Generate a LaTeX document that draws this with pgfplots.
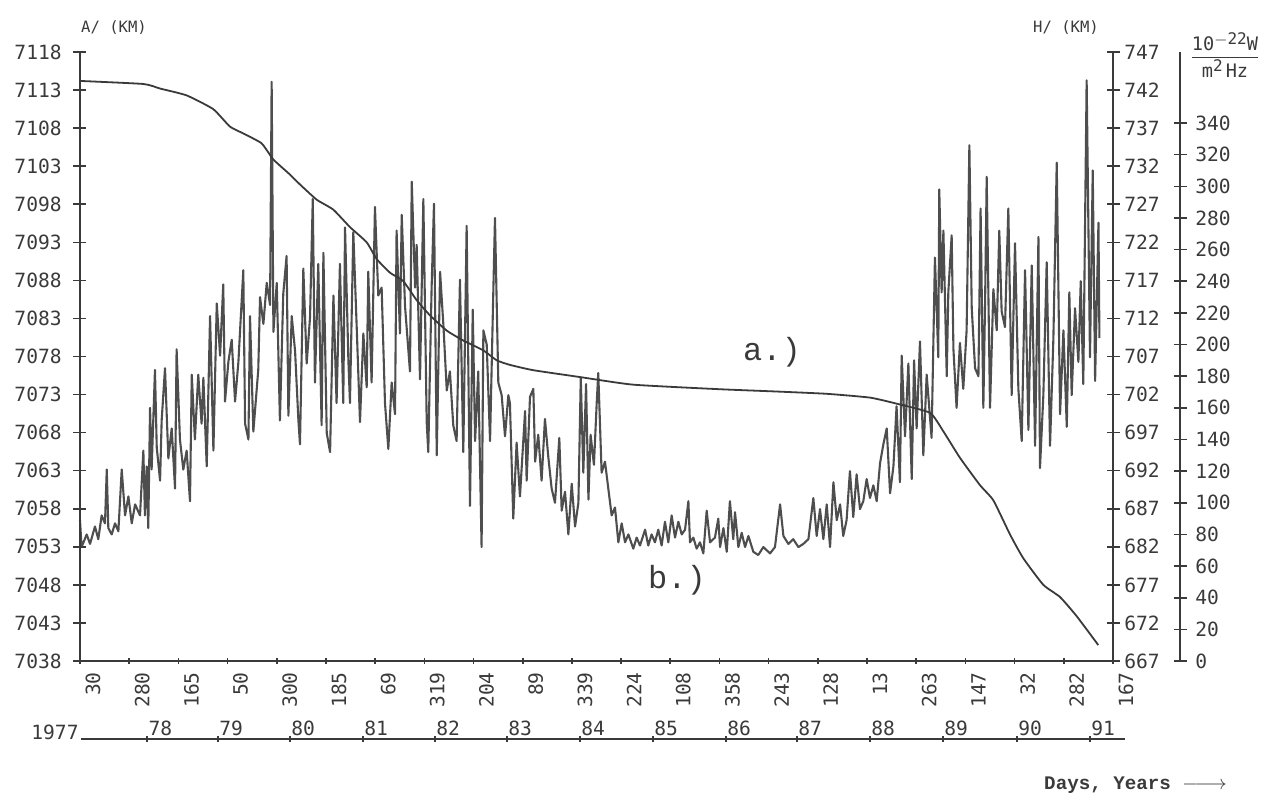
\documentclass[border=0pt]{standalone}
\usepackage{fontspec}
\usepackage{pgfplots}
\pgfplotsset{compat=1.18}
\usepackage{pgfplotstable}
\newfontfamily\plotfont{DejaVu Sans Mono}
\newfontfamily\courfont{Liberation Mono}
\definecolor{ink}{HTML}{3A3A3A}

\pgfplotstableread{
day A
0 7114.2
322 7113.8
407 7113.2
542 7112.3
677 7110.5
762 7108.2
830 7107.3
923 7106.0
982 7103.9
1067 7101.9
1118 7100.6
1203 7098.6
1287 7097.3
1372 7095.0
1457 7093.0
1508 7090.8
1576 7089.0
1643 7087.9
1711 7085.4
1779 7083.4
1864 7081.4
1948 7080.1
2050 7078.8
2118 7077.5
2185 7076.9
2304 7076.2
2541 7075.3
2812 7074.3
3253 7073.7
3541 7073.4
3795 7073.1
4015 7072.6
4151 7071.8
4320 7070.6
4387 7068.2
4472 7064.7
4574 7061.1
4642 7059.1
4727 7054.6
4794 7051.5
4896 7048.0
4981 7046.4
5065 7043.9
5175 7040.1
}\orbit

\pgfplotstableread{
day flux
0 89
8 72
34 80
51 74
76 85
93 77
110 92
127 87
136 121
144 84
161 80
178 87
195 82
212 121
229 92
246 104
263 87
280 99
305 92
322 133
330 92
339 123
347 84
356 160
364 121
381 184
390 135
407 114
415 152
432 185
449 128
466 147
483 109
491 197
508 140
525 121
542 133
559 101
568 181
584 140
601 181
618 150
627 179
644 123
661 218
678 133
695 226
712 193
728 238
737 164
754 189
771 203
788 164
805 189
830 247
839 150
856 140
864 218
881 145
906 184
915 230
932 213
949 239
966 225
974 366
983 208
1000 239
1016 152
1033 232
1050 256
1059 155
1076 218
1093 196
1110 152
1118 137
1135 248
1152 188
1169 217
1183 292
1194 176
1211 251
1228 149
1237 258
1254 144
1271 132
1288 231
1304 163
1321 251
1338 163
1347 274
1364 190
1372 163
1389 271
1406 212
1423 151
1440 207
1457 173
1465 246
1482 176
1499 287
1516 231
1533 236
1550 163
1567 134
1584 176
1601 156
1609 272
1626 207
1635 282
1652 224
1677 183
1686 303
1703 236
1711 263
1728 178
1745 292
1762 151
1770 132
1787 236
1799 289
1813 130
1830 246
1847 212
1864 171
1880 183
1897 149
1914 139
1931 241
1948 132
1965 275
1982 98
1996 222
2008 139
2024 183
2041 72
2050 209
2067 200
2084 139
2101 236
2109 280
2126 176
2143 168
2160 142
2177 168
2185 163
2202 90
2219 138
2236 104
2262 158
2270 114
2287 167
2304 172
2313 126
2329 143
2346 114
2363 153
2380 129
2397 109
2414 100
2436 141
2448 95
2465 107
2482 80
2499 112
2516 85
2533 100
2545 179
2558 119
2572 175
2584 102
2595 143
2612 124
2626 163
2634 182
2651 119
2668 126
2685 109
2702 92
2719 97
2736 75
2753 87
2770 75
2787 80
2812 71
2829 78
2846 73
2872 83
2888 73
2905 80
2922 75
2939 83
2956 73
2973 88
2990 75
3007 92
3024 78
3041 88
3058 80
3075 83
3092 101
3100 75
3117 78
3134 71
3151 75
3168 68
3185 95
3202 75
3227 78
3244 90
3253 72
3270 84
3287 69
3303 101
3320 77
3329 94
3346 72
3363 81
3380 72
3397 79
3422 69
3447 67
3473 72
3507 68
3532 72
3558 99
3575 79
3600 74
3625 77
3651 72
3676 74
3702 77
3727 103
3744 79
3761 96
3778 77
3795 99
3812 72
3829 113
3846 89
3863 99
3879 79
3896 89
3913 120
3930 91
3947 118
3964 96
3981 101
3998 115
4015 103
4032 111
4049 101
4066 125
4083 137
4100 147
4117 106
4134 123
4150 161
4167 113
4176 193
4193 142
4210 188
4227 115
4239 190
4252 147
4269 202
4286 130
4303 181
4328 141
4345 255
4362 192
4367 298
4379 233
4388 272
4405 180
4413 233
4430 269
4439 197
4455 160
4472 201
4489 172
4506 209
4520 326
4532 223
4549 185
4566 180
4577 286
4591 160
4600 228
4608 306
4625 160
4642 235
4659 209
4672 272
4684 221
4701 211
4718 286
4735 168
4752 264
4769 172
4786 139
4803 247
4820 146
4837 250
4854 136
4871 268
4879 122
4896 168
4913 252
4930 136
4947 204
4964 315
4981 156
4998 209
5015 148
5028 233
5040 168
5057 223
5074 189
5086 240
5099 175
5116 367
5133 192
5147 310
5159 177
5176 277
5181 204
}\fluxdata

\begin{document}
\begin{tikzpicture}[x=1pt,y=1pt]
\useasboundingbox (-40,-66.5) rectangle (597.5,330.5);
\pgfplotsset{
  base/.style={scale only axis, width=516.5pt, height=304.5pt,
    xmin=0, xmax=5250, clip=false,
    tick style={ink, line width=0.8pt},
    tick align=center,
    /pgf/number format/assume math mode=true,
    /pgf/number format/1000 sep={},
    tick label style={font=\plotfont\fontsize{9.8}{10}\selectfont, text=ink},
  },
  noarrow/.style={axis line style={-, ink, line width=0.8pt},
    every outer x axis line/.append style={-},
    every outer y axis line/.append style={-},
    every inner x axis line/.append style={-},
    every inner y axis line/.append style={-}},
}
% flux data
\begin{axis}[base, at={(0,0)}, anchor=south west, ymin=0, ymax=384.9, hide axis]
\addplot[ink!90, line width=1.05pt, line join=round] table[x=day,y=flux]{\fluxdata};
\end{axis}
% main A axis
\begin{axis}[base, at={(0,0)}, anchor=south west, ymin=7038, ymax=7118,
  axis x line=bottom, axis y line=left, noarrow,
  xtick={0,250,...,5250},
  xticklabels={30,280,165,50,300,185,69,319,204,89,339,224,108,358,243,128,13,263,147,32,282,167},
  xticklabel style={rotate=90, anchor=east, yshift=-6.5pt},
  xtick style={/pgfplots/major tick length=3pt},
  ytick={7038,7043,...,7118},
  ytick style={/pgfplots/major tick length=6.5pt},
  yticklabel style={anchor=east, xshift=-3.5pt}]
\addplot[ink, line width=0.9pt, line join=round, smooth, tension=0.3] table[x=day,y=A]{\orbit};
\end{axis}
% H axis
\begin{axis}[base, at={(0,0)}, anchor=south west, ymin=667, ymax=747,
  axis y line=right, axis x line=none, noarrow,
  ytick={667,672,...,747},
  ytick style={/pgfplots/major tick length=6.5pt},
  yticklabel style={anchor=west, xshift=0pt}]
\end{axis}
% flux ruler
\begin{axis}[base, at={(33.5pt,0)}, anchor=south west, ymin=0, ymax=384.9,
  axis y line=right, axis x line=none, noarrow,
  ytick={0,20,...,340},
  ytick style={/pgfplots/major tick length=6.5pt},
  yticklabel style={anchor=west, xshift=2pt}]
\end{axis}
% year axis
\begin{axis}[scale only axis, at={(0.5pt,-39pt)}, anchor=south west,
  width=522pt, height=10pt, xmin=5, xmax=5311, ymin=0, ymax=1,
  axis x line=bottom, axis y line=none, noarrow,
  tick style={ink, line width=0.8pt}, tick align=center,
  xtick style={/pgfplots/major tick length=3pt},
  xtick={341,701,1067,1438,1804,2170,2541,2912,3283,3644,4015,4386,4762,5133},
  xticklabels={78,79,80,81,82,83,84,85,86,87,88,89,90,91},
  xticklabel style={anchor=south west, font=\plotfont\fontsize{9.8}{10}\selectfont, text=ink, inner sep=0.5pt, yshift=3pt},
  clip=false]
\node[anchor=base east, font=\plotfont\fontsize{9.8}{10}\selectfont, text=ink, inner sep=1pt] at (axis cs:5,0) {1977};
\end{axis}
% labels
\node[font=\plotfont\fontsize{7.8}{9}\selectfont, text=ink] at (17,316.5) {A/ (KM)};
\node[font=\plotfont\fontsize{7.8}{9}\selectfont, text=ink] at (493,316.5) {H/ (KM)};
\node[font=\plotfont\fontsize{9.3}{10}\selectfont, text=ink, inner sep=0pt] at (572.5,303)
  {$\displaystyle{\hbox{10\raisebox{0.55ex}{\fontsize{8}{9}\selectfont$-$22}W}\over\hbox{m\raisebox{0.55ex}{\fontsize{8}{9}\selectfont 2}\,Hz}}$};
\node[font=\courfont\fontsize{16}{18}\selectfont, text=ink] at (346,154.5) {a.)};
\node[font=\courfont\fontsize{16}{18}\selectfont, text=ink] at (298.5,40.5) {b.)};
\node[font=\courfont\bfseries\fontsize{9.6}{11}\selectfont, text=ink, anchor=east] at (577,-62) {Days, Years $\relbar\joinrel\longrightarrow$};
\end{tikzpicture}
\end{document}
